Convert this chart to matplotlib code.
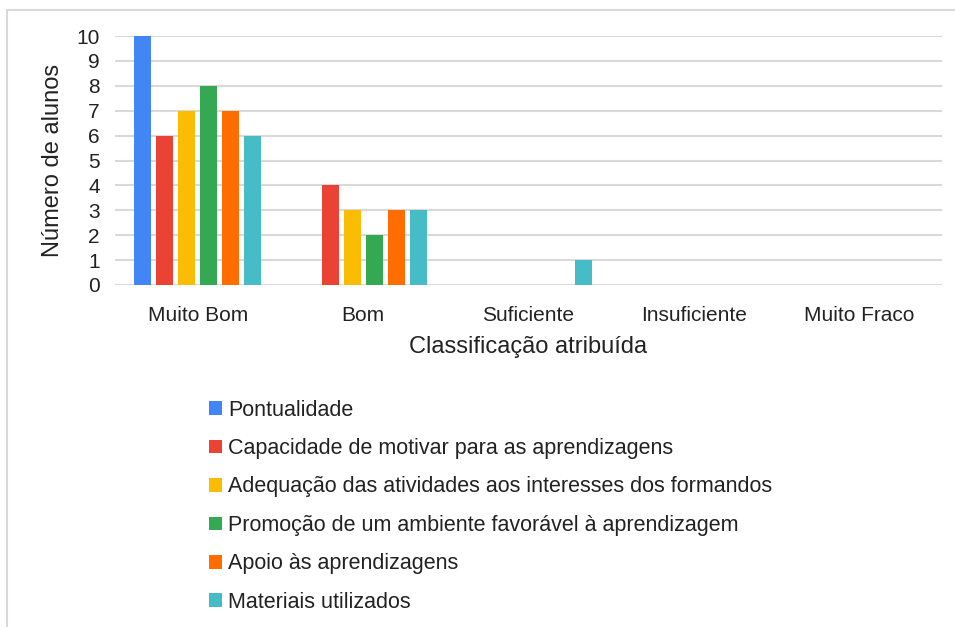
import matplotlib
matplotlib.use("Agg")
import matplotlib.pyplot as plt
from matplotlib.lines import Line2D
import numpy as np

categories = ["Muito Bom", "Bom", "Suficiente", "Insuficiente", "Muito Fraco"]
series_names = [
    "Pontualidade",
    "Capacidade de motivar para as aprendizagens",
    "Adequação das atividades aos interesses dos formandos",
    "Promoção de um ambiente favorável à aprendizagem",
    "Apoio às aprendizagens",
    "Materiais utilizados",
]
pontualidade = [10, 0, 0, 0, 0]
capacidade = [6, 4, 0, 0, 0]
adequacao = [7, 3, 0, 0, 0]
promocao = [8, 2, 0, 0, 0]
apoio = [7, 3, 0, 0, 0]
materiais = [6, 3, 1, 0, 0]
series_values = [pontualidade, capacidade, adequacao, promocao, apoio, materiais]
colors = ["#4285F4", "#EA4335", "#FBBC04", "#34A853", "#FF6D01", "#46BDC6"]
yticks = list(range(0, 11))

plt.rcParams["font.family"] = ["Liberation Sans", "DejaVu Sans"]

fig = plt.figure(figsize=(9.55, 6.27), dpi=100)
W, H = 955, 627
ax = fig.add_axes([115 / W, 1 - 285 / H, (942 - 115) / W, (285 - 36) / H])

x = np.arange(len(categories))
step = 0.133
width = 0.103
n = len(series_values)
for i, (vals, name, c) in enumerate(zip(series_values, series_names, colors)):
    offs = (i - (n - 1) / 2) * step
    ax.bar(x + offs, vals, width=width, color=c, label=name, zorder=3)

ax.set_xlim(-0.5, len(categories) - 0.5)
ax.set_ylim(0, 10)
ax.set_yticks(yticks)
ax.set_xticks(x)
ax.set_xticklabels(categories)
ax.tick_params(axis="both", length=0, labelsize=15, colors="#222222")
ax.tick_params(axis="x", pad=15)
ax.tick_params(axis="y", pad=11)
ax.grid(axis="y", color="#d9d9d9", linewidth=1.5, zorder=0)
for s in ax.spines.values():
    s.set_visible(False)
ax.set_ylabel("Número de alunos", fontsize=17, color="#222222", labelpad=9)
ax.set_xlabel("Classificação atribuída", fontsize=17, color="#222222", labelpad=8)

# legend
handles, labels = ax.get_legend_handles_labels()
leg = fig.legend(handles, labels, loc="upper left",
                 bbox_to_anchor=(200 / W, 1 - 391 / H),
                 frameon=False, fontsize=15.5, handlelength=0.6, handleheight=0.6,
                 handletextpad=0.3, labelspacing=0.81, borderaxespad=0)
for t in leg.get_texts():
    t.set_color("#222222")

# outer border lines (top and left)
fig.add_artist(Line2D([7 / W, 1.0], [1 - 10 / H, 1 - 10 / H], color="#d9d9d9", linewidth=1.5,
                      transform=fig.transFigure))
fig.add_artist(Line2D([7 / W, 7 / W], [0, 1 - 10 / H], color="#d9d9d9", linewidth=1.5,
                      transform=fig.transFigure))

fig.savefig("out.png", dpi=100)
